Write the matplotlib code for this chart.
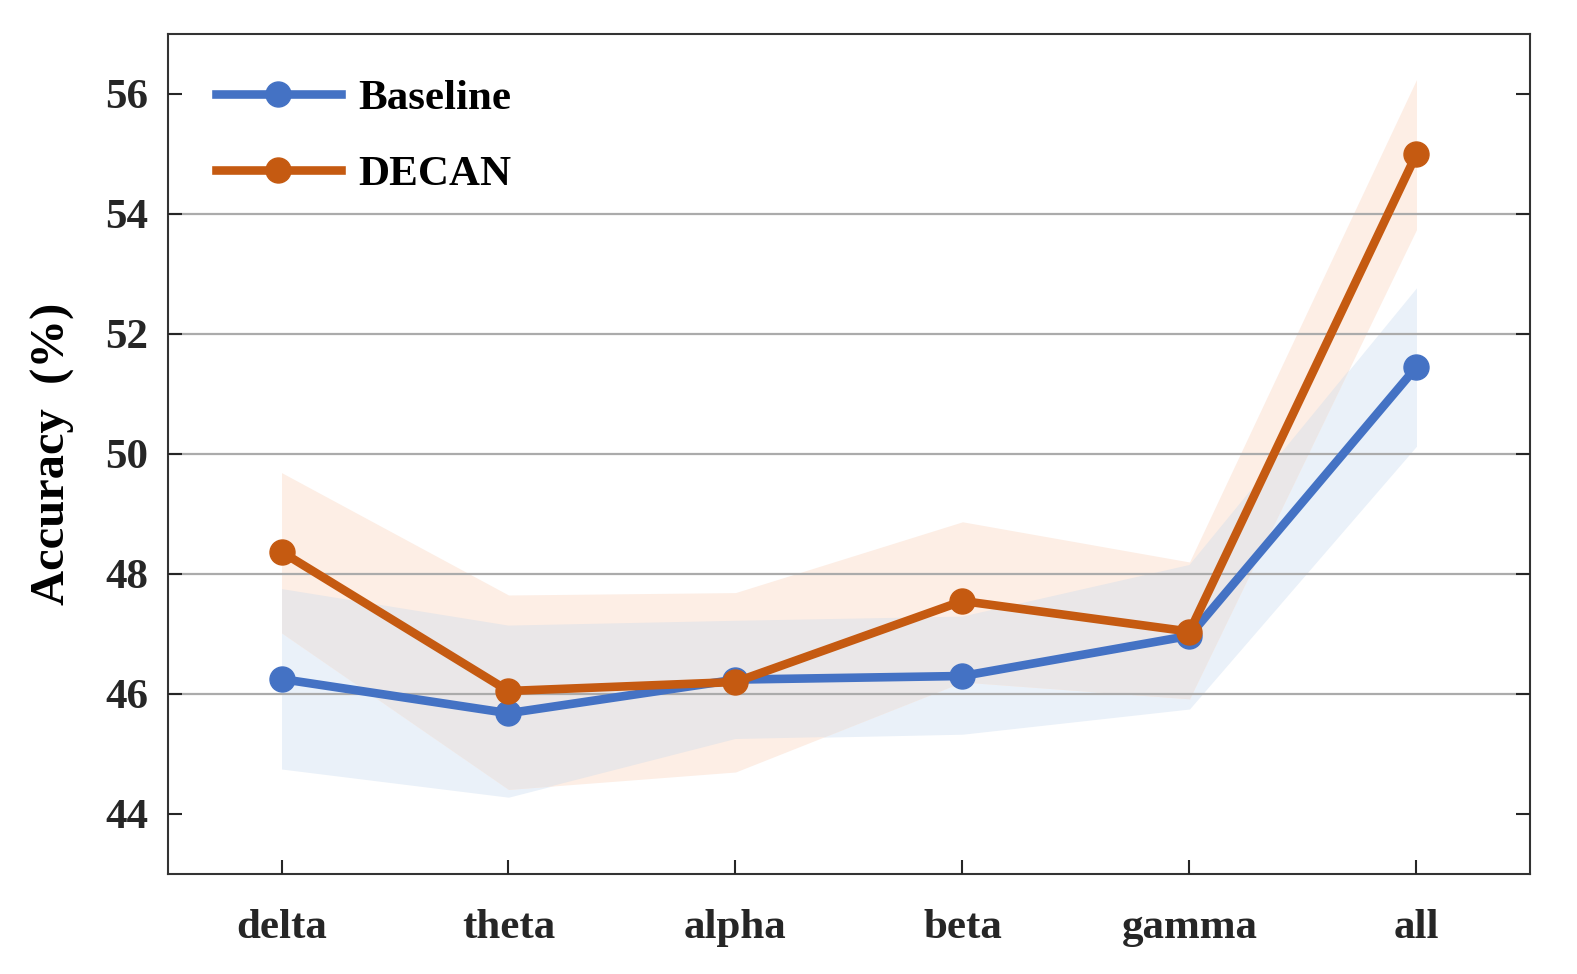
import numpy as np
import matplotlib.pyplot as plt

bands = ['delta', 'theta', 'alpha', 'beta', 'gamma', 'all']

baseline = [46.25, 45.68, 46.24, 46.30, 46.97, 51.45]
baseline_lo = [44.75, 44.28, 45.25, 45.33, 45.75, 50.13]
baseline_hi = [47.75, 47.14, 47.22, 47.29, 48.15, 52.77]

decan = [48.37, 46.05, 46.20, 47.55, 47.04, 55.00]
decan_lo = [47.02, 44.41, 44.70, 46.20, 45.92, 53.74]
decan_hi = [49.69, 47.65, 47.69, 48.87, 48.20, 56.24]

yticks = [44, 46, 48, 50, 52, 54, 56]

blue = '#4472C4'
orange = '#C55A11'

plt.rcParams['font.family'] = 'Liberation Serif'
plt.rcParams['font.weight'] = 'bold'

fig = plt.figure(figsize=(15.77, 9.74), dpi=100)
ax = fig.add_axes([168/1577, 1-874/974, (1530-168)/1577, (874-34)/974])

x = np.arange(1, len(bands)+1)

# confidence bands; the overlap is painted grey, clipped to the baseline band
fb = ax.fill_between(x, baseline_lo, baseline_hi, color='#EAF1F9', lw=0, zorder=1)
ax.fill_between(x, decan_lo, decan_hi, color='#FDEEE5', lw=0, zorder=1)
ov = ax.fill_between(x, decan_lo, decan_hi, color='#EAE7E8', lw=0, zorder=1.1)
ov.set_clip_path(fb.get_paths()[0], ax.transData)

ax.plot(x, baseline, color=blue, lw=6.2, marker='o', ms=18, label='Baseline', zorder=3)
ax.plot(x, decan, color=orange, lw=6.2, marker='o', ms=18, label='DECAN', zorder=4)

ax.set_xlim(0.5, 6.5)
ax.set_ylim(43, 57)
ax.set_xticks(x)
ax.set_xticklabels(bands)
ax.set_yticks(yticks)

ax.set_axisbelow(False)
ax.yaxis.grid(True, color='#ABABAB', lw=1.6)
for gl, t in zip(ax.get_ygridlines(), yticks):
    if t in (44, 56):
        gl.set_visible(False)

ax.tick_params(axis='both', direction='in', length=10, width=1.5, colors='#262626',
               labelsize=31, right=True, top=False)
ax.tick_params(axis='x', pad=25)
ax.tick_params(axis='y', pad=14)
for s in ax.spines.values():
    s.set_color('#333333')
    s.set_linewidth(1.5)

ax.set_ylabel('Accuracy  (%)', fontsize=35, fontweight='bold', color='black', labelpad=22)

leg = ax.legend(loc='upper left', bbox_to_anchor=(0.035, 0.946), frameon=False,
                fontsize=31, handlelength=2.9, handletextpad=0.42,
                labelspacing=0.85, borderpad=0, borderaxespad=0)
for t in leg.get_texts():
    t.set_color('black')

fig.savefig('out.png', dpi=100)
